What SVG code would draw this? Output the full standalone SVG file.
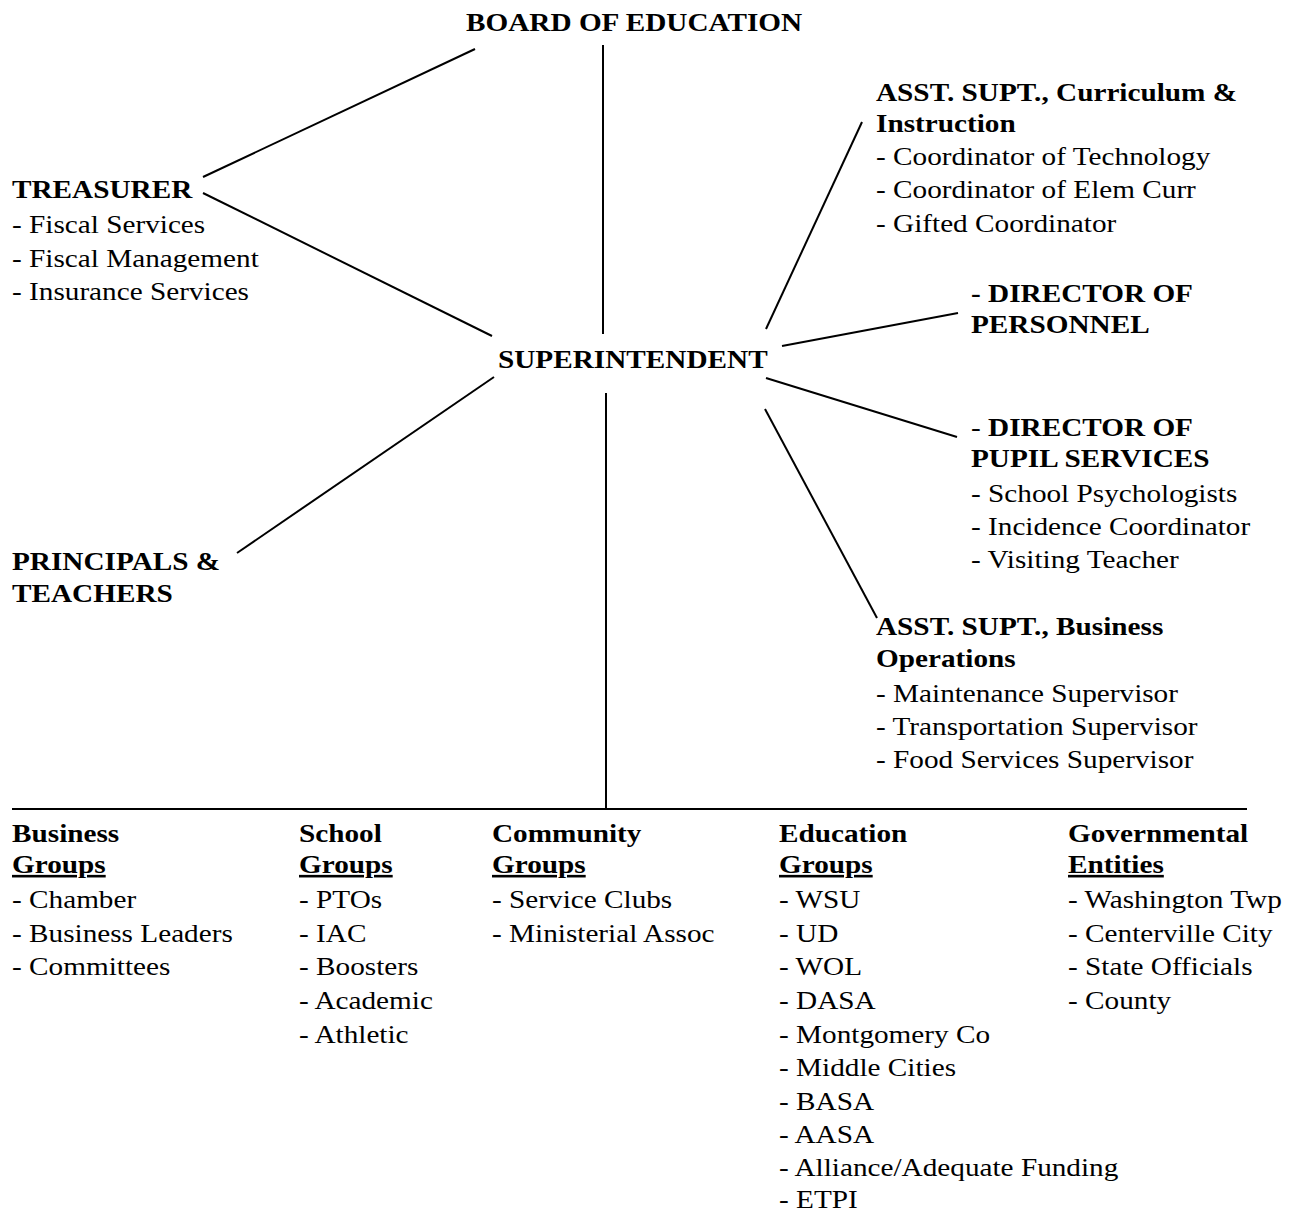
<svg xmlns="http://www.w3.org/2000/svg" width="1299" height="1213" viewBox="0 0 1299 1213">
<style>
text{font-family:"Liberation Serif","Times New Roman",serif;font-size:26px;fill:#000}
.b{font-weight:bold}
.u{text-decoration:underline}
.c line{stroke:#000;stroke-width:2;fill:none}
</style>
<rect width="1299" height="1213" fill="#fff"/>
<g class="c" id="connectors">
<line x1="475" y1="49" x2="203" y2="177"/>
<line x1="603" y1="45" x2="603" y2="334"/>
<line x1="203" y1="193" x2="492" y2="336"/>
<line x1="494" y1="377" x2="237" y2="553"/>
<line x1="606" y1="393" x2="606" y2="809"/>
<line x1="12" y1="809" x2="1247" y2="809"/>
<line x1="766" y1="329" x2="862" y2="122"/>
<line x1="782" y1="346" x2="958" y2="313"/>
<line x1="766" y1="378" x2="957" y2="437"/>
<line x1="765" y1="409" x2="877" y2="618"/>
</g>
<g id="board" transform="translate(466,0) scale(1.125,1)"><text class="b" x="0" y="31">BOARD OF EDUCATION</text></g>
<g id="treasurer" transform="translate(12,0) scale(1.125,1)">
<text class="b" x="0" y="198">TREASURER</text>
<text x="0" y="233">- Fiscal Services</text>
<text x="0" y="267">- Fiscal Management</text>
<text x="0" y="300">- Insurance Services</text>
</g>
<g id="superintendent" transform="translate(498,0) scale(1.125,1)"><text class="b" x="0" y="368">SUPERINTENDENT</text></g>
<g id="principals" transform="translate(12,0) scale(1.125,1)">
<text class="b" x="0" y="570">PRINCIPALS &amp;</text>
<text class="b" x="0" y="602">TEACHERS</text>
</g>
<g id="curriculum" transform="translate(876,0) scale(1.125,1)">
<text class="b" x="0" y="101">ASST. SUPT., Curriculum &amp;</text>
<text class="b" x="0" y="132">Instruction</text>
<text x="0" y="165">- Coordinator of Technology</text>
<text x="0" y="198">- Coordinator of Elem Curr</text>
<text x="0" y="232">- Gifted Coordinator</text>
</g>
<g id="personnel" transform="translate(971,0) scale(1.125,1)">
<text class="b" x="0" y="302">- DIRECTOR OF</text>
<text class="b" x="0" y="333">PERSONNEL</text>
</g>
<g id="pupil" transform="translate(971,0) scale(1.125,1)">
<text x="0" y="436">- <tspan class="b">DIRECTOR OF</tspan></text>
<text class="b" x="0" y="467">PUPIL SERVICES</text>
<text x="0" y="502">- School Psychologists</text>
<text x="0" y="535">- Incidence Coordinator</text>
<text x="0" y="568">- Visiting Teacher</text>
</g>
<g id="business-ops" transform="translate(876,0) scale(1.125,1)">
<text class="b" x="0" y="635">ASST. SUPT., Business</text>
<text class="b" x="0" y="667">Operations</text>
<text x="0" y="702">- Maintenance Supervisor</text>
<text x="0" y="735">- Transportation Supervisor</text>
<text x="0" y="768">- Food Services Supervisor</text>
</g>
<g id="business-groups" transform="translate(12,0) scale(1.125,1)">
<text class="b" x="0" y="842">Business</text>
<text class="b u" x="0" y="873">Groups</text>
<text x="0" y="908">- Chamber</text>
<text x="0" y="942">- Business Leaders</text>
<text x="0" y="975">- Committees</text>
</g>
<g id="school-groups" transform="translate(299,0) scale(1.125,1)">
<text class="b" x="0" y="842">School</text>
<text class="b u" x="0" y="873">Groups</text>
<text x="0" y="908">- PTOs</text>
<text x="0" y="942">- IAC</text>
<text x="0" y="975">- Boosters</text>
<text x="0" y="1009">- Academic</text>
<text x="0" y="1043">- Athletic</text>
</g>
<g id="community-groups" transform="translate(492,0) scale(1.125,1)">
<text class="b" x="0" y="842">Community</text>
<text class="b u" x="0" y="873">Groups</text>
<text x="0" y="908">- Service Clubs</text>
<text x="0" y="942">- Ministerial Assoc</text>
</g>
<g id="education-groups" transform="translate(779,0) scale(1.125,1)">
<text class="b" x="0" y="842">Education</text>
<text class="b u" x="0" y="873">Groups</text>
<text x="0" y="908">- WSU</text>
<text x="0" y="942">- UD</text>
<text x="0" y="975">- WOL</text>
<text x="0" y="1009">- DASA</text>
<text x="0" y="1043">- Montgomery Co</text>
<text x="0" y="1076">- Middle Cities</text>
<text x="0" y="1110">- BASA</text>
<text x="0" y="1143">- AASA</text>
<text x="0" y="1176">- Alliance/Adequate Funding</text>
<text x="0" y="1208">- ETPI</text>
</g>
<g id="governmental" transform="translate(1068,0) scale(1.125,1)">
<text class="b" x="0" y="842">Governmental</text>
<text class="b u" x="0" y="873">Entities</text>
<text x="0" y="908">- Washington Twp</text>
<text x="0" y="942">- Centerville City</text>
<text x="0" y="975">- State Officials</text>
<text x="0" y="1009">- County</text>
</g>
</svg>
